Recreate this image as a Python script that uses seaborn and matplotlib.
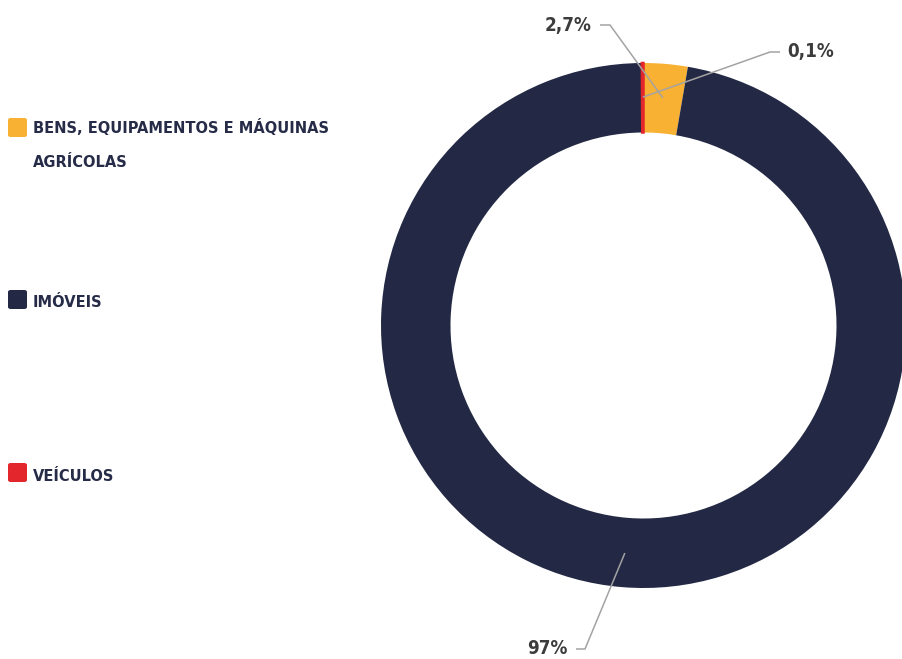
import numpy as np
import matplotlib
matplotlib.use("Agg")
import matplotlib.pyplot as plt
import seaborn as sns
from matplotlib.patches import FancyBboxPatch

# ---- data ----
categories = ["BENS, EQUIPAMENTOS E MÁQUINAS\nAGRÍCOLAS", "IMÓVEIS", "VEÍCULOS"]
values = [2.7, 97.0, 0.1]
value_labels = ["2,7%", "97%", "0,1%"]
colors = ["#F8B133", "#232944", "#E3262B"]

sns.set_theme(style="white")
FONT = ["DejaVu Sans"]
plt.rcParams["font.family"] = FONT

W, H = 903, 659
fig = plt.figure(figsize=(W / 100, H / 100), dpi=100)
ax = fig.add_axes([0, 0, 1, 1])

CX, CY, R = 643.5, 325.5, 262.5   # pixel layout of the ring


def px2d(px, py):
    return (px - CX) / R, (CY - py) / R


wedges, _ = ax.pie(values, colors=colors, startangle=90, counterclock=False,
                   radius=1.0, wedgeprops=dict(width=69.5 / R, linewidth=0))
# make the tiny slice visible
wedges[2].set_edgecolor(colors[2])
wedges[2].set_linewidth(1.8)
wedges[2].set_joinstyle("miter")

ax.set_aspect("auto")
ax.set_xlim(px2d(0, 0)[0], px2d(W, 0)[0])
ax.set_ylim(px2d(0, H)[1], px2d(0, 0)[1])
ax.axis("off")

# ---- value labels with leader lines ----
label_cfg = {
    0: dict(text=(592, 25), ha="right", elbow=[(600, 25), (610, 25)]),
    1: dict(text=(568, 648), ha="right", elbow=[(576, 649), (585, 649)]),
    2: dict(text=(787, 51), ha="left", elbow=[(780, 52), (770, 52)]),
}
for i, w in enumerate(wedges):
    ang = np.deg2rad((w.theta1 + w.theta2) / 2)
    ax_x, ax_y = 0.87 * np.cos(ang), 0.87 * np.sin(ang)
    cfg = label_cfg[i]
    pts = [px2d(*p) for p in cfg["elbow"]] + [(ax_x, ax_y)]
    xs, ys = zip(*pts)
    ax.plot(xs, ys, color="#A3A3A3", lw=1.1, solid_capstyle="butt", zorder=5)
    tx, ty = px2d(*cfg["text"])
    ax.text(tx, ty, value_labels[i], ha=cfg["ha"], va="center", fontsize=13.5,
            fontweight="bold", fontstretch="condensed", color="#3C3C3C",
            family=FONT)

# ---- legend ----
leg_rows = [(118, 167), (290, 307), (463, 481)]  # square top, last-line baseline (px)
for (sq_top, base), cat, col in zip(leg_rows, categories, colors):
    sz = 19
    fig.add_artist(FancyBboxPatch((8 / W, 1 - (sq_top + sz) / H), sz / W, sz / H,
                                  boxstyle="round,pad=0,rounding_size=0.003",
                                  transform=fig.transFigure, facecolor=col,
                                  edgecolor="none"))
    fig.text(33 / W, 1 - base / H, cat, ha="left", va="baseline",
             fontsize=11.7, fontweight="bold", fontstretch="condensed",
             color="#262B47", linespacing=2.55, family=FONT)

fig.savefig("out.png", dpi=100)
